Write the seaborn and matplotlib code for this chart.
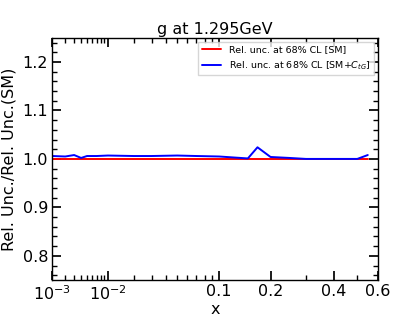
import matplotlib
matplotlib.use('Agg')
import matplotlib.pyplot as plt
import matplotlib.ticker as mticker
import seaborn as sns
import pandas as pd
import numpy as np

# values
x_vals = [0.001, 0.002, 0.003, 0.004, 0.005, 0.007, 0.01, 0.02, 0.03, 0.05,
          0.07, 0.1, 0.15, 0.17, 0.2, 0.25, 0.3, 0.4, 0.5, 0.55]
sm_ratio = [1.0] * len(x_vals)
smctg_ratio = [1.006, 1.005, 1.008, 1.002, 1.006, 1.006, 1.007, 1.006, 1.006, 1.007,
               1.006, 1.005, 1.001, 1.024, 1.004, 1.002, 1.000, 1.000, 1.000, 1.008]

major_x = [0.001, 0.01, 0.1, 0.2, 0.4, 0.6]
major_x_labels = ['$10^{-3}$', '$10^{-2}$', '0.1', '0.2', '0.4', '0.6']
minor_x = [0.002, 0.003, 0.004, 0.005, 0.006, 0.007, 0.008, 0.009,
           0.02, 0.03, 0.04, 0.05, 0.06, 0.07, 0.08, 0.09, 0.3, 0.5]

title = "g at 1.295GeV"
label_sm = "Rel. unc. at 68% CL [SM]"
label_smc = "Rel. unc. at 68% CL [SM+$C_{tG}$]"

sns.set_theme(style='ticks')
plt.rcParams.update({
    'font.family': ['DejaVu Sans'],
    'text.color': 'black',
    'axes.labelcolor': 'black',
    'xtick.color': 'black',
    'ytick.color': 'black',
    'xtick.direction': 'in',
    'ytick.direction': 'in',
    'xtick.top': True,
    'ytick.right': True,
    'xtick.major.size': 6.5,
    'ytick.major.size': 6.5,
    'xtick.minor.size': 3.5,
    'ytick.minor.size': 3.5,
    'axes.linewidth': 1.0,
    'axes.edgecolor': 'black',
})

fig = plt.figure(figsize=(4.2, 3.15), dpi=100)
ax = fig.add_axes([0.1245, 0.111, 0.7745, 0.769])


def fwd(x):
    return np.power(np.clip(x, 0, None), 0.3)


def inv(x):
    return np.power(np.clip(x, 0, None), 1 / 0.3)


ax.set_xscale('function', functions=(fwd, inv))

df = pd.DataFrame({'x': x_vals, 'sm': sm_ratio, 'smc': smctg_ratio})
sns.lineplot(data=df, x='x', y='sm', color='red', lw=1.4, label=label_sm, ax=ax)
sns.lineplot(data=df, x='x', y='smc', color='blue', lw=1.4, label=label_smc, ax=ax)

ax.set_xlim(0.001, 0.6)
ax.set_ylim(0.75, 1.25)
ax.xaxis.set_major_locator(mticker.FixedLocator(major_x))
ax.xaxis.set_major_formatter(mticker.FixedFormatter(major_x_labels))
ax.xaxis.set_minor_locator(mticker.FixedLocator(minor_x))
ax.xaxis.set_minor_formatter(mticker.NullFormatter())
ax.yaxis.set_major_locator(mticker.MultipleLocator(0.1))
ax.yaxis.set_minor_locator(mticker.MultipleLocator(0.02))
ax.tick_params(labelsize=11.5, pad=3)

ax.set_title(title, fontsize=11.5, pad=3)
ax.set_xlabel('x', fontsize=11.5, labelpad=-1)
ax.set_ylabel('Rel. Unc./Rel. Unc.(SM)', fontsize=11.5)
ax.legend(loc='upper right', fontsize=6.8, frameon=True, fancybox=False,
          edgecolor='#cccccc', borderaxespad=0.4)

fig.savefig('out.png', dpi=100)
